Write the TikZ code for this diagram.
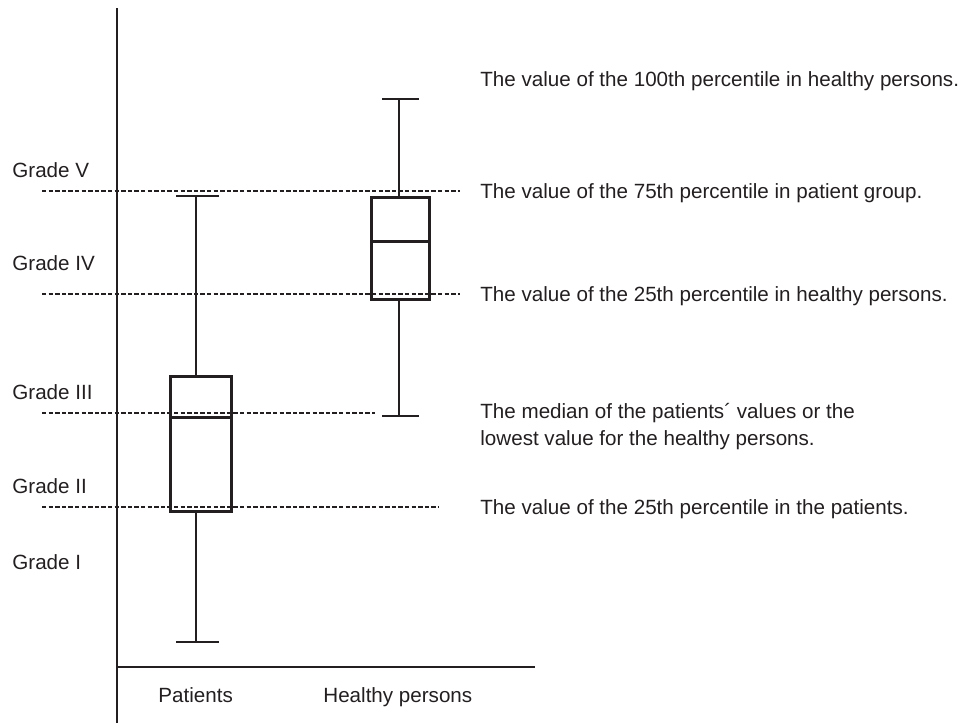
\documentclass[tikz,border=0pt]{standalone}
\usepackage{fontspec}
\setmainfont{Liberation Sans}
\usetikzlibrary{positioning}
\definecolor{ink}{HTML}{231F20}
\tikzset{
  txt/.style={anchor=base west, inner sep=0pt, text=ink,
    font=\fontsize{10.3}{13.5}\selectfont},
  level/.style={draw=ink, line width=0.6pt, dash pattern=on 2.2pt off 1.1pt},
  boxline/.style={draw=ink, line width=1.5pt},
  whisker/.style={draw=ink, line width=0.9pt},
  axis/.style={draw=ink, line width=0.9pt}
}

\begin{document}
\begin{tikzpicture}[x=0.5pt, y=-0.5pt]
	\useasboundingbox (0,0) rectangle (975,723);
	% axes
	\coordinate (ytop) at (117,8);
	\coordinate (ybot) at (117,723);
	\coordinate (xend) at (535,667);
	\draw[axis] (ytop) -- (ybot);
	\draw[axis] (ytop |- xend) -- (xend);
	% grade levels
	\draw[level] (42,191) -- (460,191);
	\draw[level] (42,294) -- (460,294);
	\draw[level] (42,413) -- (375,413);
	\draw[level] (42,507) -- (439,507);
	\node[txt] (g5) at (12,177) {Grade V};
	\node[txt] (g4) at (12,270) {Grade IV};
	\node[txt] (g3) at (12,399) {Grade III};
	\node[txt] (g2) at (12,493) {Grade II};
	\node[txt] (g1) at (12,569) {Grade I};
	% patients
	\draw[whisker] (196,376) -- (196,196) (176,196) -- (219,196);
	\draw[whisker] (196,511) -- (196,642) (176,642) -- (219,642);
	\draw[boxline] (170,376) rectangle (231,511);
	\draw[boxline] (170,417) -- (231,417);
	% healthy persons
	\draw[whisker] (399,197) -- (399,99) (382,99) -- (419,99);
	\draw[whisker] (399,299) -- (399,416) (382,416) -- (419,416);
	\draw[boxline] (371,197) rectangle (429,299);
	\draw[boxline] (371,241) -- (429,241);
	% groups
	\node[txt] (pat) at (158,702) {Patients};
	\node[txt] (hea) at (323,702) {Healthy persons};
	% notes
	\node[txt] (n100) at (480,86) {The value of the 100th percentile in healthy persons.};
	\node[txt] (n75) at (480,198) {The value of the 75th percentile in patient group.};
	\node[txt] (n25h) at (480,301) {The value of the 25th percentile in healthy persons.};
	\node[txt, align=left] (nmed) at (480,445) {The median of the patients´ values or the\\lowest value for the healthy persons.};
	\node[txt] (n25p) at (480,514) {The value of the 25th percentile in the patients.};
\end{tikzpicture}
\end{document}
